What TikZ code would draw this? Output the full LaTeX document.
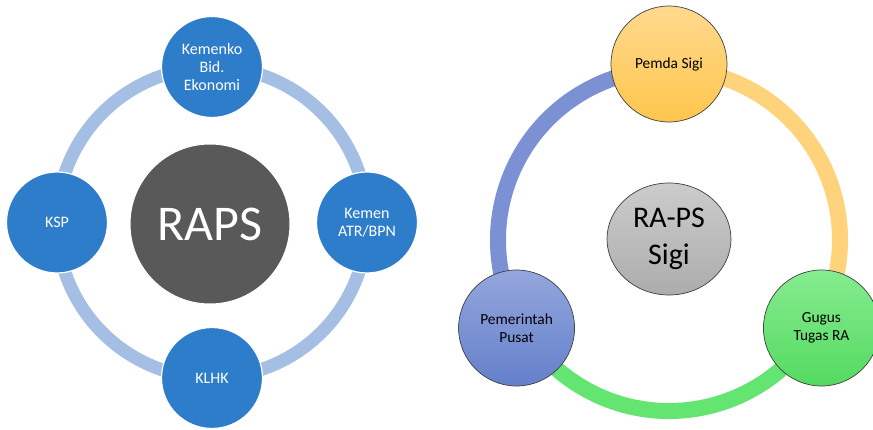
\documentclass[tikz,border=0pt]{standalone}
\usepackage{fontspec}
\setmainfont{Carlito}
\usetikzlibrary{shapes.geometric,calc,backgrounds}
\definecolor{lblue}{HTML}{2E7DCA}
\definecolor{lring}{HTML}{A5BFE4}
\definecolor{lcenter}{HTML}{595959}
\definecolor{oring}{HTML}{FFD27C}
\definecolor{gring}{HTML}{64E470}
\definecolor{bring}{HTML}{7B91D4}
\definecolor{outl}{HTML}{3F3F3F}
\tikzset{
  x=1pt,y=1pt,
  lnode/.style={circle,fill=lblue,draw=white,line width=1.2pt,minimum size=101pt,inner sep=0pt,
    text=white,align=center,font=\fontsize{16}{18}\selectfont},
  lmid/.style={circle,fill=lcenter,draw=white,line width=1pt,minimum size=160pt,inner sep=0pt,
    text=white,font=\fontsize{50}{60}\selectfont},
  lringstyle/.style={draw=lring,line width=13pt},
  rnode/.style={circle,draw=outl,line width=0.7pt,minimum size=116pt,inner sep=0pt,
    text=black,align=center,font=\fontsize{15.4}{17.5}\selectfont},
  rmid/.style={ellipse,draw=outl,line width=0.7pt,minimum width=124pt,minimum height=112pt,inner sep=0pt,
    top color=gray!40,bottom color=gray!65,text=black,align=center,font=\fontsize{30}{36.5}\selectfont},
  ringseg/.style={line width=16pt}
}
\begin{document}
\begin{tikzpicture}
\useasboundingbox (0,0) rectangle (873,429);
% ---------- left diagram ----------
\node[lnode] (kem) at (212,362) {Kemenko\\Bid.\\Ekonomi};
\node[lnode] (atr) at (367,206.5) {Kemen\\ATR/BPN};
\node[lnode] (klhk) at (212,51) {KLHK};
\node[lnode] (ksp) at (57,206.5) {KSP};
\node[lmid] (raps) at (210,205) {RAPS};
\begin{scope}[on background layer]
\draw[lringstyle] (kem.center) arc[start angle=90,end angle=0,radius=155];
\draw[lringstyle] (atr.center) arc[start angle=0,end angle=-90,radius=155];
\draw[lringstyle] (klhk.center) arc[start angle=-90,end angle=-180,radius=155];
\draw[lringstyle] (ksp.center) arc[start angle=180,end angle=90,radius=155];
\end{scope}
% ---------- right diagram ----------
\coordinate (rc) at (669,189);
\node[rnode,top color={rgb,255:red,255;green,217;blue,143},bottom color={rgb,255:red,255;green,198;blue,76}] (pemda) at ($(rc)+(90:176)$) {Pemda Sigi};
\node[rnode,top color={rgb,255:red,134;green,236;blue,144},bottom color={rgb,255:red,84;green,218;blue,96}] (gugus) at ($(rc)+(-30:176)$) {Gugus\\Tugas RA};
\node[rnode,top color={rgb,255:red,148;green,166;blue,221},bottom color={rgb,255:red,100;green,128;blue,203}] (pusat) at ($(rc)+(210:176)$) {Pemerintah\\Pusat};
\node[rmid] (raps2) at (669,190) {RA-PS\\Sigi};
\coordinate (r1) at ($(rc)!171/176!(pemda.center)$);
\coordinate (r2) at ($(rc)!171/176!(gugus.center)$);
\coordinate (r3) at ($(rc)!171/176!(pusat.center)$);
\begin{scope}[on background layer]
\draw[ringseg,draw=oring] (r1) arc[start angle=90,end angle=-30,radius=171];
\draw[ringseg,draw=gring] (r2) arc[start angle=-30,end angle=-150,radius=171];
\draw[ringseg,draw=bring] (r3) arc[start angle=210,end angle=90,radius=171];
\end{scope}
\end{tikzpicture}
\end{document}
